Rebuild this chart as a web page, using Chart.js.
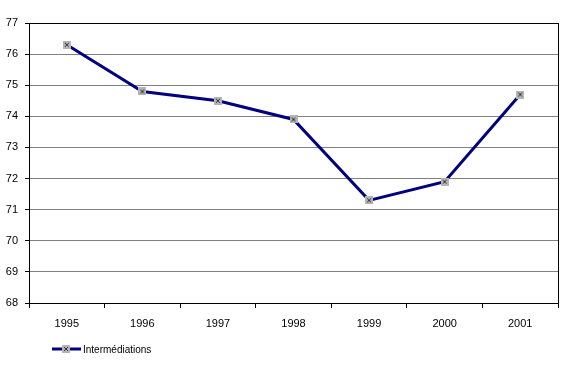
<!DOCTYPE html>
<html>
<head>
<meta charset="utf-8">
<script src="https://cdn.jsdelivr.net/npm/chart.js@4/dist/chart.umd.min.js"></script>
<style>
  body { margin: 0; background: #fff; }
  #wrap { width: 565px; height: 365px; }
</style>
</head>
<body>
<div id="wrap"><canvas id="myChart"></canvas></div>
<script>
let years = ['1995', '1996', '1997', '1998', '1999', '2000', '2001']
let values = [76.3, 74.8, 74.5, 73.9, 71.3, 71.9, 74.7]
let seriesName = 'Intermédiations'

// grey square with a cross, like the old office marker
function makeMarker() {
    let c = document.createElement('canvas')
    c.width = 8
    c.height = 8
    let g = c.getContext('2d')
    g.fillStyle = '#b4b4b4'
    g.fillRect(0, 0, 8, 8)
    g.strokeStyle = '#333'
    g.lineWidth = 1
    g.beginPath()
    g.moveTo(2, 2); g.lineTo(6, 6)
    g.moveTo(6, 2); g.lineTo(2, 6)
    g.stroke()
    return c
}
let marker = makeMarker()

let frame = {
    id: 'frame',
    afterDatasetsDraw(chart) {
        let a = chart.chartArea
        let c = chart.ctx
        c.save()
        c.strokeStyle = '#000'
        c.lineWidth = 1
        c.strokeRect(Math.round(a.left) + 0.5, Math.round(a.top) + 0.5, Math.round(a.right - a.left), Math.round(a.bottom - a.top))
        c.restore()
    },
    afterDraw(chart) {
        let c = chart.ctx
        let y = 349
        c.save()
        c.strokeStyle = '#000080'
        c.lineWidth = 3
        c.beginPath()
        c.moveTo(52, y)
        c.lineTo(81, y)
        c.stroke()
        c.drawImage(marker, 62, y - 4)
        c.fillStyle = '#000'
        c.font = '10px "Liberation Sans", Arial, sans-serif'
        c.textBaseline = 'middle'
        c.fillText(chart.data.datasets[0].label, 83, y + 1)
        c.restore()
    }
}

let ctx = document.getElementById('myChart').getContext('2d')
let myChart = new Chart(ctx, {
    type: 'line',
    data: {
        labels: years,
        datasets: [{
            label: seriesName,
            data: values,
            borderColor: '#000080',
            borderWidth: 3,
            pointStyle: marker,
            pointRadius: 4,
            tension: 0
        }]
    },
    options: {
        responsive: true,
        maintainAspectRatio: false,
        animation: false,
        layout: {
            padding: { top: 23, right: 2, left: 0, bottom: 0 }
        },
        plugins: {
            legend: { display: false },
            tooltip: { enabled: false }
        },
        scales: {
            x: {
                offset: true,
                afterFit: (axis) => { axis.height = 62 },
                grid: {
                    offset: true,
                    drawOnChartArea: false,
                    tickLength: 5,
                    tickColor: '#000'
                },
                border: { color: '#000' },
                ticks: {
                    color: '#000',
                    padding: 9,
                    font: { family: '"Liberation Sans", Arial, sans-serif', size: 11 }
                }
            },
            y: {
                min: 68,
                max: 77,
                afterFit: (axis) => { axis.width = 29 },
                grid: {
                    color: '#808080',
                    tickLength: 4,
                    tickColor: '#000'
                },
                border: { color: '#000' },
                ticks: {
                    stepSize: 1,
                    color: '#000',
                    padding: 7,
                    font: { family: '"Liberation Sans", Arial, sans-serif', size: 11 }
                }
            }
        }
    },
    plugins: [frame]
})
</script>
</body>
</html>
